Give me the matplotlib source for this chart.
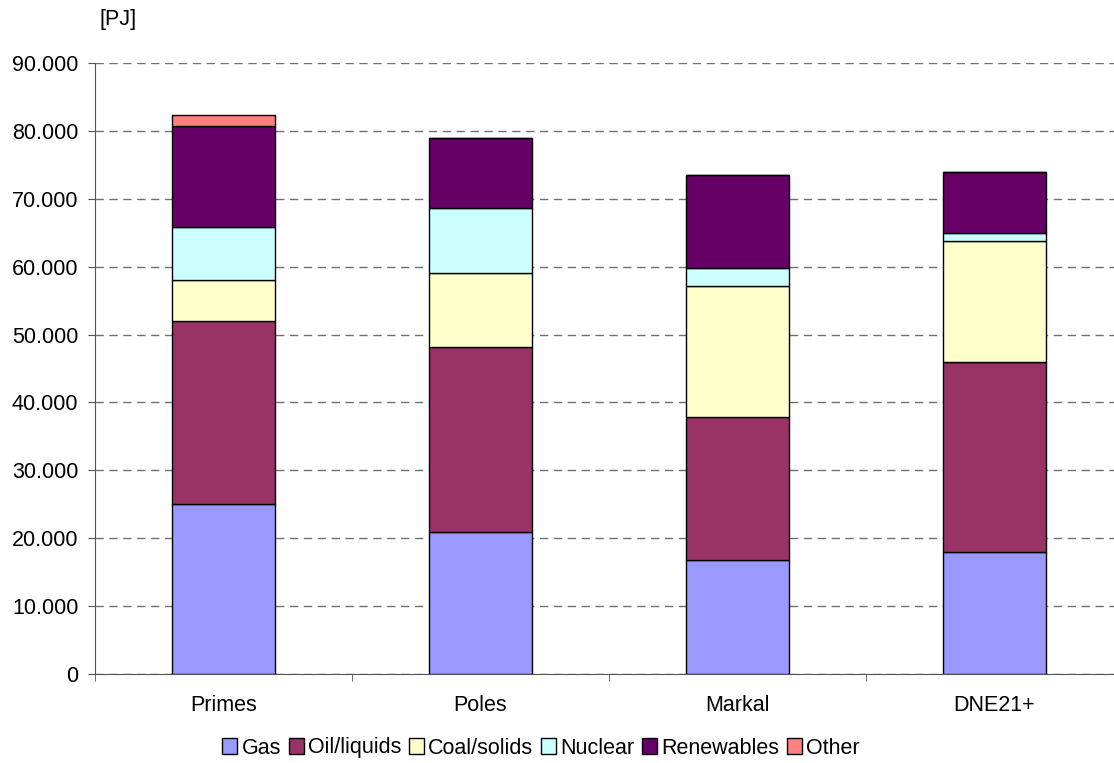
import numpy as np
import matplotlib.pyplot as plt
from matplotlib.ticker import FuncFormatter

plt.rcParams['font.family'] = ['Liberation Sans', 'DejaVu Sans']

models = ['Primes', 'Poles', 'Markal', 'DNE21+']
series = ['Gas', 'Oil/liquids', 'Coal/solids', 'Nuclear', 'Renewables', 'Other']
gas = [25000, 20900, 16800, 18000]
oil = [27000, 27200, 21100, 28000]
coal = [6000, 10900, 19300, 17800]
nuclear = [7800, 9700, 2650, 1150]
renewables = [14900, 10200, 13600, 9050]
other = [1600, 0, 0, 0]
colors = ['#9999ff', '#993366', '#ffffcc', '#ccffff', '#660066', '#ff8080']

W, H = 1114, 763
fs = 15.5
fig = plt.figure(figsize=(W / 100, H / 100), dpi=100)
ax = fig.add_axes([95 / W, 1 - 674 / H, 1028 / W, (674 - 63) / H])

x = np.arange(len(models))
bottom = np.zeros(len(models))
for name, vals, c in zip(series, [gas, oil, coal, nuclear, renewables, other], colors):
    vals = np.array(vals, dtype=float)
    ax.bar(x, vals, 0.4, bottom=bottom, color=c, edgecolor='black', linewidth=1,
           label=name, zorder=3)
    bottom += vals

ax.set_xlim(-0.5, 3.5)
ax.set_ylim(0, 90000)
ax.set_yticks(np.arange(0, 90001, 10000))
ax.yaxis.set_major_formatter(FuncFormatter(
    lambda v, p: '0' if v == 0 else f'{int(v):,}'.replace(',', '.')))
ax.set_xticks(x)
ax.set_xticklabels(models)
ax.set_xticks(np.arange(-0.5, 3.6, 1), minor=True)
ax.tick_params(axis='x', which='major', length=0, pad=15, labelsize=fs)
ax.tick_params(axis='x', which='minor', length=5, direction='out', color='#555555')
ax.tick_params(axis='y', length=5, direction='out', color='#555555', labelsize=fs, pad=7)
ax.grid(axis='y', color='#707070', linestyle=(0, (6, 4)), linewidth=1, zorder=0)
for s in ['top', 'right']:
    ax.spines[s].set_visible(False)
ax.spines['left'].set_color('#555555')
ax.spines['bottom'].set_color('#555555')

fig.text(118 / W, 1 - 20 / H, '[PJ]', fontsize=fs, ha='center', va='center')

ax.legend(loc='center', bbox_to_anchor=(541 / W, 1 - 748 / H), bbox_transform=fig.transFigure,
          ncol=6, frameon=False, fontsize=fs, handlelength=0.7, handleheight=0.7,
          handletextpad=0.2, columnspacing=0.35, borderaxespad=0)

fig.savefig('out.png', dpi=100)
